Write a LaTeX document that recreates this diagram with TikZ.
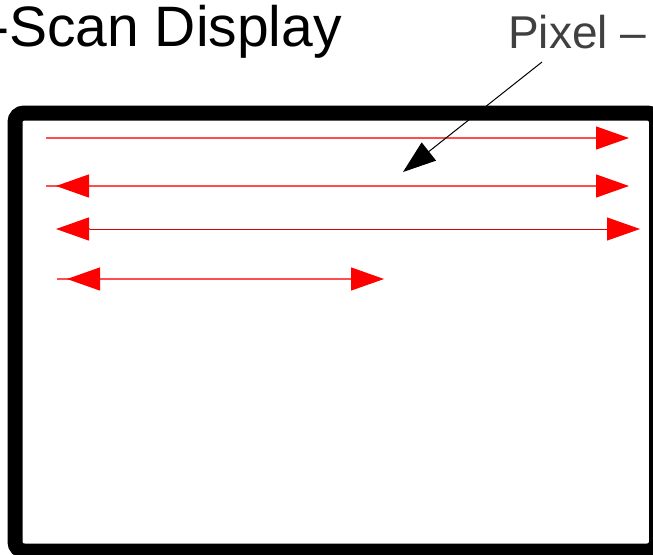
\documentclass[tikz,border=0pt]{standalone}
\usepackage{fontspec}
\setmainfont{Liberation Sans}
\usetikzlibrary{arrows.meta}

\tikzset{
	scanline/.style={draw=red!70, line width=1.2pt},
	retrace/.style={draw=red!85!black, line width=0.9pt},
	redtip/.style={-{Triangle[length=33pt,width=23pt,color=red,fill=red]}},
	blacktip/.style={-{Triangle[length=33pt,width=23pt,color=black,fill=black]}},
}

\begin{document}
\begin{tikzpicture}[x=1pt,y=-1pt]
	\useasboundingbox (0,0) rectangle (653,554);

	\node[anchor=base west, inner sep=0pt, font=\fontsize{57}{60}\selectfont] (title) at (-10,46) {-Scan Display};
	\node[anchor=base west, inner sep=0pt, text=black!75, font=\fontsize{46}{50}\selectfont] (pixel) at (508,48) {Pixel –};

	\draw[line width=15pt, rounded corners=9pt] (15,113) rectangle (656.5,551);

	\coordinate (a1) at (46,138);  \coordinate (b1) at (629,138);
	\coordinate (a2) at (46,186);  \coordinate (b2) at (629,186);
	\coordinate (c2) at (89,186);  \coordinate (d2) at (56,186);
	\coordinate (a3) at (90,229);  \coordinate (b3) at (640,229);
	\coordinate (c3) at (89,229);  \coordinate (d3) at (56,229);
	\coordinate (a4) at (57,279);  \coordinate (b4) at (384,279);
	\coordinate (c4) at (100,279); \coordinate (d4) at (67,279);

	\draw[scanline, redtip] (a1) -- (b1);
	\draw[scanline, redtip] (a2) -- (b2);
	\draw[retrace, redtip] (a3) -- (b3);
	\draw[scanline, redtip] (a4) -- (b4);

	\draw[scanline, redtip] (c2) -- (d2);
	\draw[scanline, redtip] (c3) -- (d3);
	\draw[scanline, redtip] (c4) -- (d4);

	\coordinate (p0) at (542,62);
	\coordinate (p1) at (403,172);
	\draw[line width=1pt, blacktip] (p0) -- (p1);
\end{tikzpicture}
\end{document}
